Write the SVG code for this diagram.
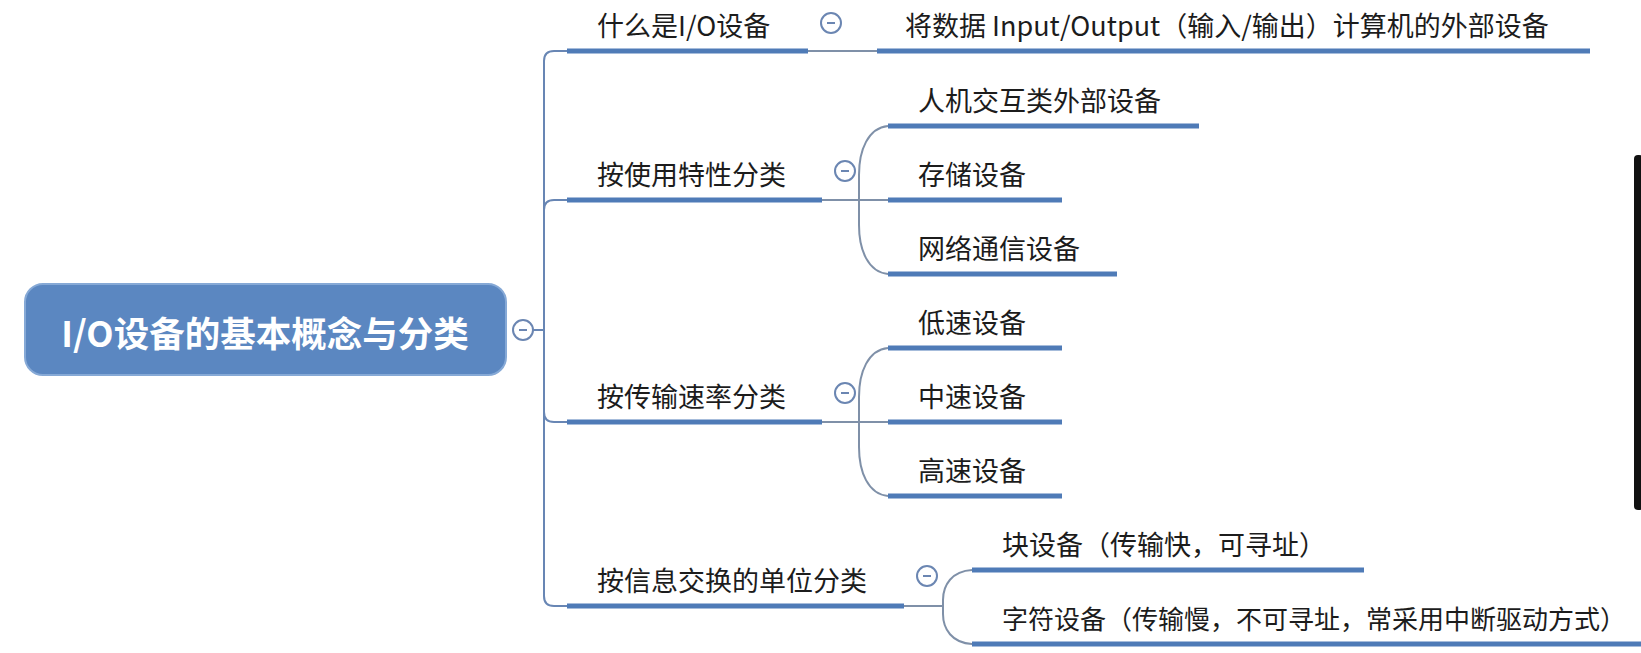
<svg xmlns="http://www.w3.org/2000/svg" width="1641" height="653" viewBox="0 0 1641 653">
<style>
.t{font-family:"Noto Sans CJK SC","Noto Sans",sans-serif;font-size:27px;fill:#1c1c1c;dominant-baseline:central}
.ul{stroke:#4f7bb7;stroke-width:5;fill:none}
.tr{stroke:#6886b4;stroke-width:2;fill:none}
.cn{stroke:#7f90a8;stroke-width:2;fill:none}
.col circle{fill:#fff;stroke:#6b86b2;stroke-width:2}
.col line{stroke:#6b86b2;stroke-width:2}
</style>
<rect width="1641" height="653" fill="#fff"/>
<rect x="1634" y="155" width="9" height="355" rx="4" fill="#111"/>
<g id="connectors">
  <path class="tr" d="M533 330 H544"/>
  <path class="tr" d="M544 330 V61 Q544 51 554 51 H567"/>
  <path class="tr" d="M544 330 V210 Q544 200 554 200 H567"/>
  <path class="tr" d="M544 330 V412 Q544 422 554 422 H567"/>
  <path class="tr" d="M544 330 V596 Q544 606 554 606 H567"/>
  <path class="cn" d="M808 51 H877"/>
  <path class="cn" d="M822 200 H888"/>
  <path class="cn" d="M888 126 C868 128 859 150 859 175 V225 C859 250 868 272 888 274"/>
  <path class="cn" d="M822 422 H888"/>
  <path class="cn" d="M888 348 C868 350 859 372 859 397 V447 C859 472 868 494 888 496"/>
  <path class="cn" d="M904 606 H943"/>
  <path class="cn" d="M972 570 C952 571 943 585 943 600 V614 C943 629 952 643 972 644"/>
</g>
<g id="root">
  <rect x="25" y="284" width="481" height="91" rx="18" fill="#5b87c1" stroke="#86a9d6" stroke-width="2"/>
  <text x="265" y="331" text-anchor="middle" style="font-family:'Noto Sans CJK SC','Noto Sans',sans-serif;font-size:35.5px;font-weight:bold;fill:#fff;dominant-baseline:central">I/O设备的基本概念与分类</text>
  <g class="col"><circle cx="523" cy="330" r="10"/><line x1="519" y1="330" x2="527" y2="330"/></g>
</g>
<g id="n1">
  <text class="t" x="597" y="24">什么是I/O设备</text>
  <line class="ul" x1="567" y1="51" x2="808" y2="51"/>
  <g class="col"><circle cx="831" cy="23" r="10"/><line x1="827" y1="23" x2="835" y2="23"/></g>
</g>
<g id="n1a">
  <text class="t" x="905" y="24">将数据 Input/Output（输入/输出）计算机的外部设备</text>
  <line class="ul" x1="877" y1="51" x2="1590" y2="51"/>
</g>
<g id="n2">
  <text class="t" x="597" y="173">按使用特性分类</text>
  <line class="ul" x1="567" y1="200" x2="822" y2="200"/>
  <g class="col"><circle cx="845" cy="171" r="10"/><line x1="841" y1="171" x2="849" y2="171"/></g>
</g>
<g id="n2a">
  <text class="t" x="918" y="99">人机交互类外部设备</text>
  <line class="ul" x1="888" y1="126" x2="1199" y2="126"/>
</g>
<g id="n2b">
  <text class="t" x="918" y="173">存储设备</text>
  <line class="ul" x1="888" y1="200" x2="1062" y2="200"/>
</g>
<g id="n2c">
  <text class="t" x="918" y="247">网络通信设备</text>
  <line class="ul" x1="888" y1="274" x2="1117" y2="274"/>
</g>
<g id="n3">
  <text class="t" x="597" y="395">按传输速率分类</text>
  <line class="ul" x1="567" y1="422" x2="822" y2="422"/>
  <g class="col"><circle cx="845" cy="393" r="10"/><line x1="841" y1="393" x2="849" y2="393"/></g>
</g>
<g id="n3a">
  <text class="t" x="918" y="321">低速设备</text>
  <line class="ul" x1="888" y1="348" x2="1062" y2="348"/>
</g>
<g id="n3b">
  <text class="t" x="918" y="395">中速设备</text>
  <line class="ul" x1="888" y1="422" x2="1062" y2="422"/>
</g>
<g id="n3c">
  <text class="t" x="918" y="469">高速设备</text>
  <line class="ul" x1="888" y1="496" x2="1062" y2="496"/>
</g>
<g id="n4">
  <text class="t" x="597" y="579">按信息交换的单位分类</text>
  <line class="ul" x1="567" y1="606" x2="904" y2="606"/>
  <g class="col"><circle cx="927" cy="576" r="10"/><line x1="923" y1="576" x2="931" y2="576"/></g>
</g>
<g id="n4a">
  <text class="t" x="1002" y="543">块设备（传输快，可寻址）</text>
  <line class="ul" x1="972" y1="570" x2="1364" y2="570"/>
</g>
<g id="n4b">
  <text class="t" x="1002" y="617" style="font-size:26px">字符设备（传输慢，不可寻址，常采用中断驱动方式）</text>
  <line class="ul" x1="972" y1="644" x2="1645" y2="644"/>
</g>
</svg>
